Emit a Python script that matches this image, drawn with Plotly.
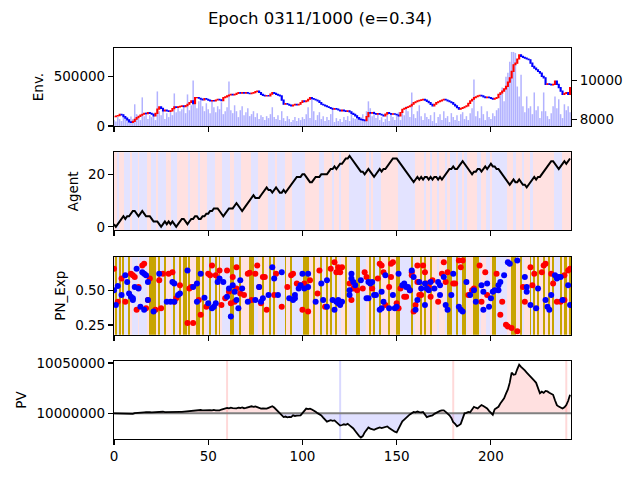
import plotly.graph_objects as go

N = 243
steps = list(range(N))

price_close = [
    8120, 8160, 8180, 8240, 8220, 8130, 8050, 7960, 7850, 7830,
    7880, 7990, 8080, 8140, 8200, 8250, 8300, 8280, 8340, 8300,
    8250, 8170, 8300, 8520, 8630, 8560, 8430, 8460, 8430, 8400,
    8430, 8540, 8630, 8600, 8630, 8660, 8680, 8650, 8700, 8770,
    8860, 8940, 8800, 9110, 9120, 9080, 9040, 9000, 9060, 9030,
    8980, 8940, 8960, 8940, 8990, 9030, 9000, 8960, 9110, 9150,
    9200, 9250, 9280, 9260, 9280, 9330, 9370, 9340, 9380, 9350,
    9370, 9340, 9320, 9350, 9370, 9420, 9450, 9380, 9280, 9230,
    9200, 9220, 9200, 9290, 9370, 9330, 9280, 9240, 9200, 8980,
    8770, 8800, 8770, 8720, 8680, 8730, 8770, 8740, 8770, 8860,
    8940, 8910, 8940, 9030, 9110, 9060, 9030, 8990, 8940, 8860,
    8770, 8730, 8680, 8640, 8600, 8550, 8510, 8540, 8520, 8470,
    8430, 8460, 8430, 8400, 8430, 8370, 8300, 8240, 8170, 8080,
    8000, 7970, 7950, 7920, 8130, 8340, 8310, 8340, 8290, 8250,
    8280, 8250, 8210, 8170, 8260, 8340, 8290, 8250, 8270, 8250,
    8210, 8170, 8340, 8510, 8560, 8600, 8640, 8680, 8770, 8850,
    8900, 8940, 8970, 9000, 9020, 8980, 8920, 8850, 8760, 8680,
    8770, 8850, 8900, 8940, 8990, 9030, 8990, 8940, 8900, 8850,
    8770, 8680, 8590, 8510, 8550, 8590, 8640, 8680, 8810, 8940,
    9030, 9110, 9160, 9200, 9230, 9200, 9150, 9110, 9140, 9110,
    9070, 9030, 9070, 9110, 9280, 9360, 9450, 9570, 9700, 9920,
    10140, 10480, 10820, 10900, 11120, 11330, 11250, 11200, 11160, 11120,
    11080, 10900, 10740, 10650, 10560, 10470, 10390, 10220, 10140, 9800,
    9830, 9800, 9780, 9800, 9970, 9800, 9630, 9450, 9280, 9330,
    9370, 9280, 9630,
]

volume = [
    60000, 45000, 90000, 70000, 50000, 110000, 85000, 60000, 40000, 95000,
    70000, 220000, 120000, 80000, 60000, 290000, 100000, 140000, 70000, 110000,
    90000, 130000, 60000, 350000, 150000, 110000, 180000, 70000, 130000, 90000,
    160000, 110000, 330000, 140000, 200000, 150000, 170000, 190000, 130000, 320000,
    160000, 210000, 460000, 220000, 180000, 250000, 270000, 200000, 150000, 230000,
    170000, 130000, 260000, 190000, 140000, 200000, 170000, 240000, 120000, 150000,
    190000, 450000, 160000, 130000, 210000, 150000, 90000, 160000, 200000, 110000,
    140000, 180000, 100000, 120000, 150000, 90000, 130000, 70000, 110000, 90000,
    60000, 100000, 80000, 120000, 190000, 90000, 70000, 110000, 60000, 150000,
    80000, 50000, 100000, 70000, 40000, 60000, 90000, 50000, 80000, 60000,
    90000, 70000, 120000, 190000, 80000, 270000, 150000, 60000, 110000, 140000,
    70000, 100000, 50000, 90000, 60000, 120000, 170000, 40000, 80000, 50000,
    70000, 40000, 90000, 60000, 100000, 50000, 130000, 80000, 70000, 110000,
    60000, 90000, 120000, 70000, 150000, 250000, 180000, 100000, 150000, 80000,
    120000, 60000, 90000, 40000, 70000, 110000, 50000, 130000, 90000, 60000,
    100000, 140000, 60000, 160000, 110000, 200000, 150000, 90000, 340000, 120000,
    80000, 150000, 210000, 100000, 60000, 130000, 90000, 70000, 110000, 50000,
    140000, 30000, 90000, 120000, 60000, 150000, 80000, 100000, 40000, 130000,
    90000, 60000, 110000, 50000, 120000, 140000, 70000, 100000, 60000, 130000,
    180000, 470000, 100000, 150000, 80000, 200000, 120000, 60000, 150000, 90000,
    70000, 130000, 100000, 160000, 180000, 320000, 390000, 250000, 500000, 540000,
    650000, 750000, 750000, 740000, 400000, 300000, 520000, 200000, 140000, 300000,
    180000, 200000, 120000, 340000, 160000, 200000, 80000, 150000, 340000, 150000,
    100000, 70000, 130000, 200000, 300000, 180000, 270000, 120000, 80000, 220000,
    160000, 200000, 140000,
]

position = [
    1, 0, 1, 2, 3, 4, 3, 4, 4, 5,
    6, 6, 5, 4, 5, 6, 5, 4, 4, 4,
    3, 2, 2, 2, 1, 0, 1, 2, 1, 2,
    1, 2, 1, 0, 1, 2, 3, 3, 2, 1,
    2, 3, 3, 4, 4, 3, 3, 4, 4, 5,
    5, 6, 6, 7, 7, 7, 6, 5, 4, 5,
    6, 7, 7, 7, 8, 9, 8, 7, 6, 7,
    8, 9, 10, 11, 12, 11, 11, 11, 12, 13,
    14, 15, 14, 14, 13, 14, 15, 14, 13, 13,
    14, 13, 14, 15, 16, 17, 18, 19, 19, 19,
    20, 20, 19, 18, 17, 17, 18, 19, 19, 19,
    20, 20, 20, 20, 21, 22, 22, 23, 22, 23,
    24, 24, 25, 26, 26, 27, 26, 25, 24, 23,
    22, 21, 21, 20, 21, 22, 21, 20, 19, 20,
    21, 22, 21, 22, 22, 23, 24, 25, 26, 26,
    26, 25, 24, 23, 22, 21, 20, 19, 18, 17,
    18, 19, 18, 19, 18, 19, 19, 18, 19, 18,
    19, 19, 18, 19, 18, 19, 20, 21, 22, 22,
    23, 22, 22, 23, 24, 25, 24, 23, 22, 21,
    20, 21, 21, 22, 22, 21, 22, 23, 22, 23,
    24, 23, 23, 22, 22, 21, 20, 19, 18, 17,
    16, 17, 18, 17, 17, 18, 17, 16, 16, 15,
    16, 17, 18, 19, 18, 19, 19, 20, 21, 22,
    23, 24, 25, 25, 24, 23, 22, 23, 24, 25,
    24, 25, 26,
]

pv = [
    10000000, 10000000, 9999800, 9999700, 9999600, 9999700, 9999500, 9999400, 9999600, 9999500,
    9999500, 10000200, 10000500, 10000100, 10000800, 10001400, 10001000, 10001200, 10001400, 10001100,
    10001000, 10001200, 10001300, 10001500, 10001200, 10001400, 10001600, 10001300, 10001400, 10001500,
    10001300, 10001600, 10001400, 10001500, 10001700, 10001500, 10001400, 10001600, 10002000, 10002200,
    10002600, 10002400, 10003000, 10003200, 10002800, 10003000, 10003300, 10002900, 10003100, 10002800,
    10003000, 10003200, 10002900, 10003400, 10003000, 10002700, 10003000, 10003800, 10004200, 10004800,
    10005400, 10005000, 10005600, 10005200, 10004800, 10005000, 10005600, 10005300, 10005800, 10005100,
    10005400, 10006000, 10006600, 10007000, 10006500, 10006800, 10006100, 10005200, 10004700, 10005000,
    10004600, 10004700, 10005500, 10006400, 10007100, 10005800, 10004000, 10002500, 10000800, 9998500,
    9996300, 9996800, 9996100, 9996500, 9996300, 9998000, 9997400, 9997800, 9998200, 9998000,
    10000200, 10002400, 10004700, 10004200, 10004700, 10003800, 10003000, 10001500, 10000200, 9999200,
    9998000, 9995800, 9993700, 9991800, 9992500, 9993200, 9992600, 9993000, 9991200, 9989500,
    9987800, 9988400, 9989100, 9988600, 9989500, 9988000, 9986600, 9985000, 9982500, 9979700,
    9977600, 9976000, 9977400, 9981000, 9983200, 9986000, 9984800, 9984400, 9983700, 9984500,
    9985200, 9986000, 9985400, 9986200, 9986700, 9987000, 9985500, 9984100, 9982700, 9981800,
    9981000, 9984800, 9989500, 9992000, 9993800, 9996000, 9997300, 9998900, 10000300, 10001400,
    10001000, 10001800, 10001200, 10000900, 10001400, 9998800, 9996300, 9997000, 9997600, 9998000,
    9999500, 10000700, 10002000, 10002400, 10002900, 10003000, 10001500, 10000000, 9998000, 9995400,
    9991200, 9989500, 9987100, 9988200, 9989500, 9994700, 10000000, 10000500, 10001400, 10001000,
    10003800, 10006500, 10005600, 10004800, 10006700, 10008200, 10007300, 10006000, 10004800, 10002500,
    10000300, 9998600, 10004000, 10005400, 10006500, 10009800, 10012400, 10015000, 10019500, 10023800,
    10030500, 10040500, 10038400, 10038800, 10044000, 10048300, 10046200, 10043900, 10042600, 10040500,
    10038200, 10036000, 10033700, 10032400, 10030300, 10026000, 10020000, 10021500, 10020400, 10022300,
    10021800, 10020500, 10019300, 10018400, 10013000, 10008200, 10006700, 10005600, 10004800, 10006000,
    10008200, 10012500, 10018400,
]
pv_base = 10000000

# 1 = red (long) stripe, 0 = blue (short) stripe
bg_state = [
    1, 1, 0, 1, 1, 1, 0, 0, 0, 1,
    0, 0, 0, 1, 0, 0, 0, 0, 1, 1,
    0, 0, 0, 1, 0, 0, 0, 0, 1, 1,
    1, 0, 0, 0, 1, 1, 1, 1, 1, 1,
    0, 1, 1, 1, 1, 0, 1, 1, 1, 1,
    0, 0, 0, 0, 1, 1, 1, 1, 0, 0,
    0, 0, 1, 1, 0, 0, 0, 0, 1, 1,
    1, 1, 1, 0, 0, 0, 0, 1, 1, 1,
    1, 1, 0, 0, 0, 0, 1, 0, 0, 0,
    0, 1, 1, 1, 1, 0, 0, 0, 0, 0,
    0, 0, 1, 1, 1, 1, 1, 1, 1, 0,
    0, 0, 1, 1, 1, 1, 0, 1, 1, 1,
    0, 1, 1, 1, 1, 0, 0, 0, 0, 0,
    0, 0, 0, 0, 1, 1, 0, 1, 0, 0,
    0, 0, 1, 1, 1, 1, 1, 1, 1, 1,
    1, 0, 0, 0, 0, 0, 0, 0, 0, 0,
    1, 1, 1, 1, 1, 0, 1, 1, 0, 1,
    1, 1, 0, 1, 1, 1, 0, 1, 1, 0,
    0, 0, 1, 0, 0, 1, 0, 0, 1, 1,
    1, 1, 1, 0, 0, 1, 1, 1, 0, 0,
    1, 0, 0, 0, 0, 0, 0, 0, 0, 1,
    1, 1, 0, 0, 1, 1, 1, 0, 1, 1,
    1, 0, 0, 1, 1, 1, 1, 1, 1, 1,
    1, 1, 1, 1, 0, 0, 0, 0, 1, 1,
    1, 1, 1,
]

explore_steps = [1, 3, 5, 8, 19, 20, 21, 22, 24, 27, 32, 35, 37, 38, 40, 44, 45, 47, 51, 54,
                 56, 62, 63, 67, 72, 73, 74, 79, 83, 85, 91, 94, 101, 102, 103, 106, 110, 113,
                 115, 118, 123, 129, 130, 136, 138, 141, 146, 150, 151, 158, 163, 165, 168, 177,
                 178, 179, 182, 185, 186, 191, 192, 193, 201, 202, 211, 212, 213, 216, 221, 223,
                 225, 228, 231, 233, 237, 239, 240, 242]

red_x = [0, 2, 4, 6, 9, 10, 11, 12, 13, 15, 16, 17, 18, 19, 22, 24, 25, 26, 29, 31,
         32, 33, 35, 39, 40, 41, 42, 45, 46, 49, 50, 51, 52, 54, 56, 57, 59, 60, 61, 62,
         63, 64, 65, 65, 67, 69, 71, 72, 73, 75, 76, 77, 78, 79, 80, 81, 85, 86, 89, 92,
         94, 95, 97, 99, 100, 101, 102, 103, 104, 108, 109, 112, 115, 117, 118, 119,
         120, 121, 125, 126, 127, 129, 132, 133, 134, 137, 140, 141, 142, 143, 144, 146,
         147, 147, 148, 150, 151, 152, 154, 155, 157, 158, 158, 159, 160, 161, 161, 162,
         163, 164, 165, 166, 167, 168, 169, 172, 174, 175, 176, 177, 180, 181, 183, 184,
         185, 188, 190, 191, 194, 195, 197, 198, 203, 205, 206, 208, 209, 211, 214, 217,
         218, 221, 222, 223, 227, 228, 229, 232, 233, 235, 237, 239, 239, 241, 242]
red_y = [0.657, 0.419, 0.586, 0.419, 0.621, 0.610, 0.598, 0.360, 0.526, 0.681, 0.693, 0.371,
         0.431, 0.586, 0.360, 0.574, 0.371, 0.621, 0.621, 0.633, 0.419, 0.443, 0.538, 0.264,
         0.514, 0.526, 0.264, 0.431, 0.324, 0.383, 0.621, 0.610, 0.681, 0.610, 0.645, 0.395,
         0.443, 0.645, 0.490, 0.407, 0.598, 0.419, 0.514, 0.669, 0.479, 0.467, 0.621, 0.629,
         0.431, 0.621, 0.681, 0.526, 0.407, 0.598, 0.598, 0.360, 0.467, 0.621, 0.383, 0.526,
         0.610, 0.621, 0.550, 0.538, 0.360, 0.550, 0.526, 0.348, 0.574, 0.479, 0.645, 0.383,
         0.657, 0.705, 0.633, 0.669,
         0.633, 0.669, 0.550, 0.431, 0.514, 0.502, 0.514, 0.633, 0.598, 0.514, 0.586, 0.693,
         0.681, 0.633, 0.395, 0.526, 0.693, 0.598, 0.705, 0.407, 0.371, 0.514, 0.455, 0.455,
         0.502, 0.633, 0.610, 0.348, 0.395, 0.681, 0.562, 0.467, 0.467, 0.681, 0.633, 0.550,
         0.526, 0.455, 0.574, 0.419, 0.621, 0.705, 0.562, 0.633, 0.550, 0.550, 0.717, 0.669,
         0.717, 0.467, 0.502, 0.514, 0.681, 0.419, 0.633, 0.467, 0.621, 0.324, 0.419, 0.252,
         0.240, 0.229, 0.205, 0.526, 0.419, 0.669, 0.538, 0.621, 0.633, 0.681, 0.693, 0.621,
         0.550, 0.419, 0.419, 0.610, 0.431, 0.645, 0.657]

blue_x = [0, 1, 2, 4, 6, 7, 8, 9, 10, 10, 11, 12, 13, 14, 15, 16, 16, 17, 18, 18,
          21, 24, 28, 30, 31, 32, 32, 34, 35, 39, 42, 44, 44, 46, 48, 50, 52, 53, 54, 55,
          56, 58, 60, 61, 62, 63, 64, 65, 66, 67, 68, 71, 75, 77, 78, 79, 82, 84, 85, 87,
          89, 93, 95, 96, 96, 98, 99, 100, 101, 103, 103, 107, 110, 111, 113, 113, 116, 118,
          117, 119, 119, 120, 121, 125, 126, 125, 126, 127, 128, 131, 134, 135, 135, 136,
          137, 138, 139, 141, 142, 142, 143, 144, 146, 148, 149, 150, 151, 153, 154, 155,
          156, 157, 158, 159, 160, 161, 162, 163, 165, 165, 166, 167, 168, 170, 172, 173,
          173, 175, 176, 177, 179, 180, 183, 184, 185, 187, 189, 191, 192, 195, 196, 196,
          198, 199, 200, 201, 202, 204, 204, 205, 207, 209, 210, 214, 218, 219, 219, 221,
          224, 225, 229, 230, 231, 232, 234, 235, 236, 237, 238, 241, 242]
blue_y = [0.502, 0.395, 0.533, 0.467, 0.610, 0.562, 0.479, 0.455, 0.431, 0.443, 0.526, 0.657,
          0.514, 0.383, 0.633, 0.621, 0.360, 0.610, 0.562, 0.431, 0.348, 0.621, 0.419, 0.419,
          0.562, 0.419, 0.550, 0.467, 0.479, 0.645, 0.526, 0.419, 0.550, 0.621, 0.448, 0.407,
          0.371, 0.383, 0.407, 0.562, 0.586, 0.562, 0.455, 0.514, 0.312, 0.538, 0.490, 0.431,
          0.371, 0.574, 0.514, 0.419, 0.431, 0.526, 0.419, 0.443, 0.467, 0.669, 0.586, 0.467,
          0.633, 0.443, 0.431, 0.443, 0.467, 0.514, 0.538, 0.621, 0.514, 0.621, 0.526, 0.419,
          0.550, 0.431, 0.574, 0.383, 0.431, 0.419,
          0.360, 0.431, 0.407, 0.395, 0.419, 0.502, 0.621, 0.467, 0.586, 0.562, 0.538, 0.574,
          0.443, 0.443, 0.562, 0.550, 0.562, 0.467, 0.467, 0.360, 0.371, 0.490, 0.419, 0.610,
          0.371, 0.467, 0.371, 0.383, 0.621, 0.538, 0.550, 0.526, 0.526, 0.502, 0.645, 0.598,
          0.360, 0.431, 0.562, 0.514, 0.550, 0.395, 0.514, 0.502, 0.562, 0.514, 0.562, 0.538,
          0.467, 0.598, 0.395, 0.360, 0.467, 0.621, 0.383, 0.360, 0.348, 0.562, 0.467, 0.502,
          0.419, 0.538, 0.490, 0.360, 0.550, 0.383, 0.443, 0.490, 0.502, 0.502, 0.538, 0.562,
          0.610, 0.705, 0.693, 0.717, 0.598, 0.526, 0.490, 0.395, 0.371, 0.514, 0.431, 0.383,
          0.360, 0.467, 0.610, 0.586, 0.598, 0.598, 0.431, 0.538, 0.395]

marker_steps = [60, 120, 180, 240]
marker_colors = ["rgba(255,0,0,0.15)", "rgba(0,0,255,0.15)", "rgba(255,0,0,0.15)", "rgba(255,0,0,0.15)"]

x_ticks = [0, 50, 100, 150, 200]
title_text = "Epoch 0311/1000 (e=0.34)"

# ---- derived helpers ----
price_open = [price_close[0]] + price_close[:-1]
price_high = [max(o, c) for o, c in zip(price_open, price_close)]
price_low = [min(o, c) for o, c in zip(price_open, price_close)]
explore_set = set(explore_steps)
pn_bg = [2 if i in explore_set else bg_state[i] for i in steps]
pv_up = [max(v, pv_base) for v in pv]
pv_dn = [min(v, pv_base) for v in pv]
base_line = [pv_base] * N

PINK = "#ffe1e1"
LBLUE = "#e3e3ff"
OLIVE = "#c8a400"

fig = go.Figure()

# Panel 1: volume + candles
fig.add_trace(go.Bar(x=steps, y=volume, width=0.8, marker=dict(color="rgba(0,0,255,0.3)", line=dict(width=0)),
                     xaxis="x", yaxis="y", showlegend=False, hoverinfo="skip"))
fig.add_trace(go.Candlestick(x=steps, open=price_open, high=price_high, low=price_low, close=price_close,
                             increasing=dict(line=dict(color="#ff0000", width=1.2), fillcolor="#ff0000"),
                             decreasing=dict(line=dict(color="#0000ff", width=1.2), fillcolor="#0000ff"),
                             whiskerwidth=0, xaxis="x", yaxis="y5", showlegend=False, hoverinfo="skip"))

# Panel 2: background + agent position
fig.add_trace(go.Heatmap(x=steps, y=[-10, 40], z=[bg_state], zmin=0, zmax=1,
                         colorscale=[[0, LBLUE], [1, PINK]], showscale=False, hoverinfo="skip",
                         xaxis="x2", yaxis="y2"))
fig.add_trace(go.Scatter(x=steps, y=position, mode="lines", line=dict(color="black", width=2),
                         xaxis="x2", yaxis="y2", showlegend=False, hoverinfo="skip"))

# Panel 3: background with explore bars + PN scatter
fig.add_trace(go.Heatmap(x=steps, y=[0, 1], z=[pn_bg], zmin=0, zmax=2,
                         colorscale=[[0, LBLUE], [0.5, PINK], [1, OLIVE]], showscale=False, hoverinfo="skip",
                         xaxis="x3", yaxis="y3"))
fig.add_trace(go.Scatter(x=red_x, y=red_y, mode="markers", marker=dict(color="#ff0000", size=6),
                         xaxis="x3", yaxis="y3", showlegend=False, hoverinfo="skip"))
fig.add_trace(go.Scatter(x=blue_x, y=blue_y, mode="markers", marker=dict(color="#0000ff", size=6),
                         xaxis="x3", yaxis="y3", showlegend=False, hoverinfo="skip"))

# Panel 4: PV
fig.add_trace(go.Scatter(x=steps, y=base_line, mode="lines", line=dict(width=0), xaxis="x4", yaxis="y4",
                         showlegend=False, hoverinfo="skip"))
fig.add_trace(go.Scatter(x=steps, y=pv_up, mode="lines", line=dict(width=0), fill="tonexty",
                         fillcolor="rgba(255,0,0,0.12)", xaxis="x4", yaxis="y4", showlegend=False, hoverinfo="skip"))
fig.add_trace(go.Scatter(x=steps, y=base_line, mode="lines", line=dict(width=0), xaxis="x4", yaxis="y4",
                         showlegend=False, hoverinfo="skip"))
fig.add_trace(go.Scatter(x=steps, y=pv_dn, mode="lines", line=dict(width=0), fill="tonexty",
                         fillcolor="rgba(0,0,255,0.12)", xaxis="x4", yaxis="y4", showlegend=False, hoverinfo="skip"))
fig.add_trace(go.Scatter(x=[0, N], y=[pv_base, pv_base], mode="lines", line=dict(color="#808080", width=2),
                         xaxis="x4", yaxis="y4", showlegend=False, hoverinfo="skip"))
fig.add_trace(go.Scatter(x=steps, y=pv, mode="lines", line=dict(color="black", width=1.8),
                         xaxis="x4", yaxis="y4", showlegend=False, hoverinfo="skip"))

shapes = []
for s, c in zip(marker_steps, marker_colors):
    shapes.append(dict(type="line", xref="x4", yref="y4 domain", x0=s, x1=s, y0=0, y1=1,
                       line=dict(color=c, width=2), layer="below"))

FONT = "DejaVu Sans"
tickfont = dict(family=FONT, size=13.5, color="black")
axis_common = dict(showline=True, mirror=True, linecolor="black", linewidth=1.1, ticks="outside",
                   ticklen=5, tickwidth=1.1, tickcolor="black", showgrid=False, zeroline=False,
                   tickfont=tickfont)
xcommon = dict(axis_common, range=[0, 242.5], tickvals=x_ticks)

h = 78 / 391
g = (391 - 4 * 78) / 3 / 391
doms = [[1 - h, 1], [1 - 2 * h - g, 1 - h - g], [1 - 3 * h - 2 * g, 1 - 2 * h - 2 * g], [0, h]]

ytitle = lambda t: dict(text=t, font=dict(family=FONT, size=13.5, color="black"), standoff=6)

fig.update_layout(
    width=640, height=480,
    margin=dict(l=114, r=69, t=48, b=41),
    paper_bgcolor="white", plot_bgcolor="white",
    font=dict(family=FONT, color="black"),
    title=dict(text=title_text, x=0.5, xanchor="center", y=1 - 18 / 480, yanchor="middle",
               font=dict(family=FONT, size=16.5, color="black")),
    showlegend=False,
    hovermode=False,
    shapes=shapes,
    xaxis=dict(xcommon, domain=[0, 1], anchor="y", showticklabels=False, rangeslider=dict(visible=False)),
    xaxis2=dict(xcommon, domain=[0, 1], anchor="y2", showticklabels=False, matches="x"),
    xaxis3=dict(xcommon, domain=[0, 1], anchor="y3", showticklabels=False, matches="x"),
    xaxis4=dict(xcommon, domain=[0, 1], anchor="y4", showticklabels=True, matches="x"),
    yaxis=dict(axis_common, domain=doms[0], anchor="x", range=[0, 790000], tickvals=[0, 500000],
               tickformat="d", title=ytitle("Env.")),
    yaxis5=dict(axis_common, overlaying="y", side="right", anchor="x", range=[7640, 11690],
                tickvals=[8000, 10000], tickformat="d", showline=False, mirror=False),
    yaxis2=dict(axis_common, domain=doms[1], anchor="x2", range=[-1.35, 28.35], tickvals=[0, 20],
                title=ytitle("Agent")),
    yaxis3=dict(axis_common, domain=doms[2], anchor="x3", range=[0.18, 0.745], tickvals=[0.25, 0.5],
                tickformat=".2f", title=ytitle("PN_Exp")),
    yaxis4=dict(axis_common, domain=doms[3], anchor="x4", range=[9974500, 10052000],
                tickvals=[10000000, 10050000], tickformat="d", title=ytitle("PV")),
)

fig.write_html("out.html", config={"displayModeBar": False, "staticPlot": True},
               post_script="document.body.style.margin='0';document.body.style.overflow='hidden';")
